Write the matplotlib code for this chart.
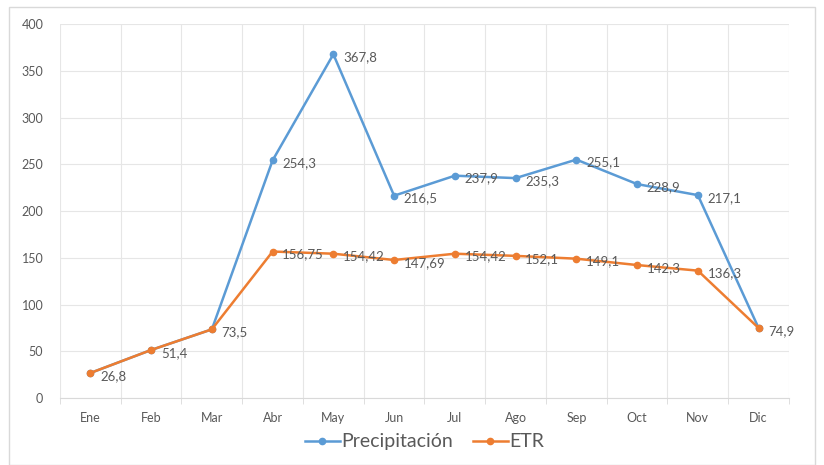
import matplotlib.pyplot as plt
import matplotlib.patches as patches
import numpy as np

plt.rcParams['font.family'] = ['Lato', 'DejaVu Sans']

meses = ['Ene', 'Feb', 'Mar', 'Abr', 'May', 'Jun', 'Jul', 'Ago', 'Sep', 'Oct', 'Nov', 'Dic']
precipitacion = [26.8, 51.4, 73.5, 254.3, 367.8, 216.5, 237.9, 235.3, 255.1, 228.9, 217.1, 74.9]
etr = [26.8, 51.4, 73.5, 156.75, 154.42, 147.69, 154.42, 152.1, 149.1, 142.3, 136.3, 74.9]
etr_labels = ['26,8', '51,4', '73,5', '156,75', '154,42', '147,69', '154,42', '152,1', '149,1', '142,3', '136,3', '74,9']
prec_labels = ['26,8', '51,4', '73,5', '254,3', '367,8', '216,5', '237,9', '235,3', '255,1', '228,9', '217,1', '74,9']

azul = '#5B9BD5'
naranja = '#ED7D31'
gris = '#595959'

fig = plt.figure(figsize=(8.24, 4.65), dpi=100)
ax = fig.add_axes([0.0728, 0.144, 0.8847, 0.804])

x = np.arange(len(meses))
ax.plot(x, precipitacion, color=azul, lw=1.8, marker='o', ms=4.5, label='Precipitación', zorder=3)
ax.plot(x, etr, color=naranja, lw=1.8, marker='o', ms=4.5, label='ETR', zorder=4)

# etiquetas: las de precipitación que coinciden con ETR quedan tapadas
for xi, yi, t, e in zip(x, precipitacion, prec_labels, etr):
    if yi == e:
        continue
    ax.annotate(t, (xi, yi), xytext=(7, -2), textcoords='offset points',
                va='center', ha='left', fontsize=9.5, color=gris, zorder=5)
for xi, yi, t in zip(x, etr, etr_labels):
    ax.annotate(t, (xi, yi), xytext=(7, -2), textcoords='offset points',
                va='center', ha='left', fontsize=9.5, color=gris, zorder=5)

ax.set_xlim(-0.5, 11.5)
ax.set_ylim(0, 400)
ax.set_yticks(np.arange(0, 401, 50))
ax.set_xticks(x)
ax.set_xticklabels(meses)
ax.set_xticks(np.arange(-0.5, 12, 1), minor=True)
ax.tick_params(axis='x', which='major', length=0, pad=10, labelsize=9, labelcolor=gris)
ax.tick_params(axis='x', which='minor', length=4, color='#d9d9d9')
ax.tick_params(axis='y', length=0, pad=12, labelsize=9, labelcolor=gris)

ax.grid(True, which='minor', axis='x', color='#e6e6e6', lw=0.8)
ax.grid(True, which='major', axis='y', color='#e6e6e6', lw=0.8)
ax.set_axisbelow(True)
for s in ['top', 'right', 'left']:
    ax.spines[s].set_visible(False)
ax.spines['bottom'].set_color('#d9d9d9')

ax.legend(loc='upper center', bbox_to_anchor=(0.5, -0.048), ncol=2, frameon=False,
          fontsize=14, labelcolor=gris, handlelength=1.8, columnspacing=1.0, handletextpad=0.1)

fig.patches.append(patches.Rectangle((9 / 824, 0), 806 / 824, 1 - 7 / 465, transform=fig.transFigure,
                                     fill=False, edgecolor='#d9d9d9', lw=1))

fig.savefig('out.png', dpi=100)
